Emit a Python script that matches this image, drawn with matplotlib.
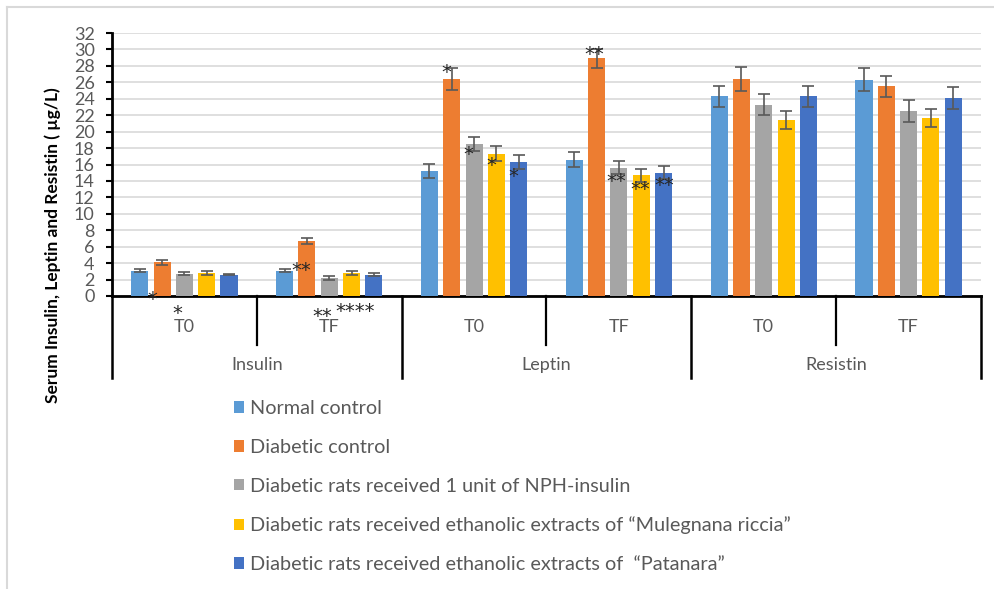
import matplotlib
matplotlib.use("Agg")
import matplotlib.pyplot as plt
import matplotlib.transforms as mtransforms
from matplotlib.lines import Line2D
from matplotlib.patches import Patch
import numpy as np

plt.rcParams['font.family'] = ['Lato', 'DejaVu Sans']

# ---------------- data ----------------
hormones = ["Insulin", "Leptin", "Resistin"]
times = ["T0", "TF", "T0", "TF", "T0", "TF"]
series_names = [
    "Normal control",
    "Diabetic control",
    "Diabetic rats received 1 unit of NPH-insulin",
    "Diabetic rats received ethanolic extracts of \u201cMulegnana riccia\u201d",
    "Diabetic rats received ethanolic extracts of  \u201cPatanara\u201d",
]
normal_control = [3.1, 3.1, 15.2, 16.6, 24.3, 26.3]
diabetic_control = [4.1, 6.7, 26.4, 28.9, 26.4, 25.5]
nph_insulin = [2.7, 2.2, 18.5, 15.6, 23.3, 22.5]
mulegnana = [2.8, 2.8, 17.3, 14.7, 21.4, 21.7]
patanara = [2.6, 2.6, 16.3, 15.0, 24.3, 24.1]

err_normal = [0.2, 0.2, 0.9, 0.9, 1.3, 1.4]
err_diabetic = [0.3, 0.4, 1.3, 1.2, 1.5, 1.3]
err_nph = [0.2, 0.2, 0.9, 0.8, 1.3, 1.3]
err_mulegnana = [0.3, 0.2, 0.9, 0.8, 1.1, 1.1]
err_patanara = [0.1, 0.2, 0.9, 0.8, 1.3, 1.3]

# significance marks: (text, x in category units, y value)
marks = ["*", "*", "**", "**", "****", "*", "*", "*", "*", "**", "**", "**", "**"]
mark_x = [-0.22, -0.05, 0.81, 0.95, 1.18, 1.81, 1.96, 2.12, 2.27, 2.83, 2.98, 3.15, 3.31]
mark_y = [0.3, -1.4, 3.8, -1.8, -1.2, 27.9, 17.9, 16.6, 15.2, 30.1, 14.6, 13.6, 14.1]

values = [normal_control, diabetic_control, nph_insulin, mulegnana, patanara]
errors = [err_normal, err_diabetic, err_nph, err_mulegnana, err_patanara]
colors = ["#5B9BD5", "#ED7D31", "#A5A5A5", "#FFC000", "#4472C4"]

# ---------------- figure ----------------
W, H = 994, 589
fig = plt.figure(figsize=(W / 100, H / 100), dpi=100)
ax = fig.add_axes([112 / W, 1 - 296 / H, (981 - 112) / W, (296 - 33) / H])

x = np.arange(len(times))
step = 0.154
width = 0.118
for i, (vals, errs, c) in enumerate(zip(values, errors, colors)):
    ax.bar(x + (i - 2) * step, vals, width=width, color=c, zorder=3,
           yerr=errs, error_kw=dict(ecolor="#595959", elinewidth=1.2,
                                    capsize=4, capthick=1.2, zorder=4))

ax.set_xlim(-0.5, 5.5)
ax.set_ylim(0, 32)
ax.set_yticks(np.arange(0, 33, 2))
ax.yaxis.grid(True, color="#D9D9D9", linewidth=1.2, zorder=0)
ax.set_axisbelow(True)
ax.set_xticks([])
for s in ["top", "right"]:
    ax.spines[s].set_visible(False)
ax.spines["left"].set_linewidth(2)
ax.spines["bottom"].set_linewidth(2)
ax.tick_params(axis="y", direction="out", length=4.5, width=1.5, color="black",
               labelsize=13, labelcolor="#595959", pad=8)

# significance marks (glyph centred on the given point)
mark_trans = mtransforms.offset_copy(ax.transData, fig=fig, x=0, y=-11, units="dots")
for t, mx, my in zip(marks, mark_x, mark_y):
    ax.text(mx, my, t, ha="center", va="baseline", fontsize=14, color="#262626",
            family="DejaVu Sans", transform=mark_trans, clip_on=False, zorder=6)

# multi-level category axis
trans = ax.get_xaxis_transform()
for b in [0.5, 2.5, 4.5]:
    ax.plot([b, b], [0, -0.186], color="black", lw=1.6, transform=trans, clip_on=False)
for b in [-0.5, 1.5, 3.5, 5.5]:
    ax.plot([b, b], [0, -0.31], color="black", lw=1.8, transform=trans, clip_on=False)
for xi, t in zip(x, times):
    ax.text(xi, -0.118, t, transform=trans, ha="center", va="center",
            fontsize=13, color="#595959")
for gi, h in enumerate(hormones):
    ax.text(2 * gi + 0.5, -0.262, h, transform=trans, ha="center", va="center",
            fontsize=13, color="#595959")

# y label
fig.text(53 / W, 1 - 245 / H, "Serum Insulin, Leptin and Resistin ( \u00b5g/L)",
         rotation=90, ha="center", va="center", fontsize=12.5, fontweight="bold",
         color="black")

# legend
handles = [Patch(facecolor=c, edgecolor="none") for c in colors]
fig.legend(handles, series_names, loc="upper left",
           bbox_to_anchor=(234 / W, 1 - 400 / H), frameon=False,
           fontsize=14.3, labelcolor="#595959", handlelength=0.52,
           handleheight=0.52, handletextpad=0.3, labelspacing=1.1,
           borderpad=0, borderaxespad=0)

# figure border (top and left)
fig.add_artist(Line2D([7 / W, 7 / W], [0, 1 - 7 / H], color="#D9D9D9", lw=1.5,
                      transform=fig.transFigure))
fig.add_artist(Line2D([7 / W, 1], [1 - 7 / H, 1 - 7 / H], color="#D9D9D9", lw=1.5,
                      transform=fig.transFigure))

fig.savefig("out.png", dpi=100)
